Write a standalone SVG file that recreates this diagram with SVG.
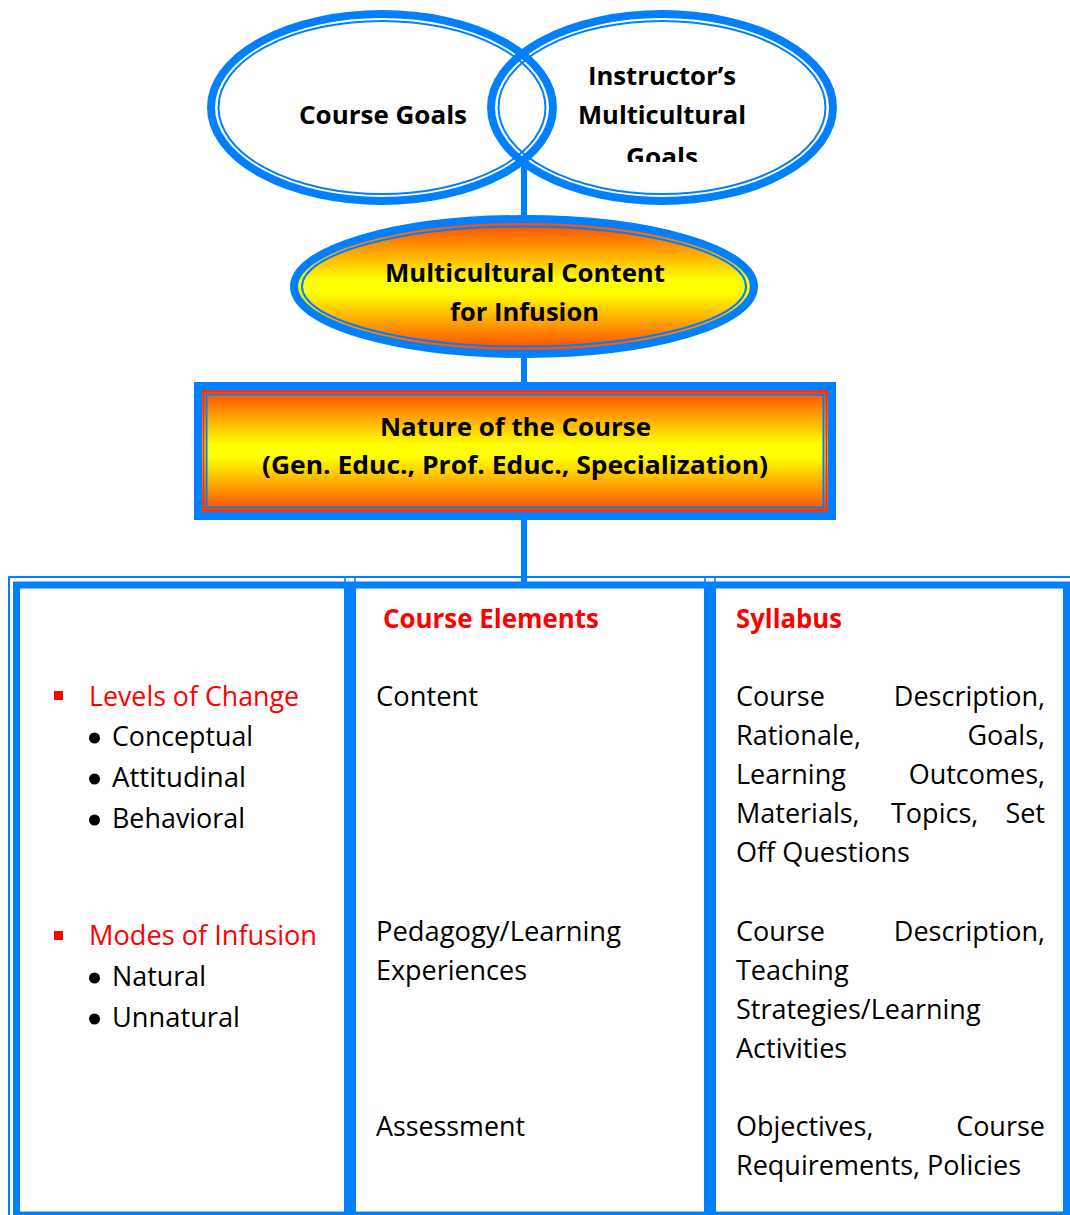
<svg xmlns="http://www.w3.org/2000/svg" width="1070" height="1215" viewBox="0 0 1070 1215">
<style>
.b{stroke:#0080FF;fill:none}
.t{font-family:"Open Sans","Liberation Sans",sans-serif;font-size:27px;fill:#000}
.h{font-family:"Open Sans","Liberation Sans",sans-serif;font-size:25.5px;font-weight:bold;fill:#000}
.red{fill:#FF0000}
.hb{font-weight:bold}
</style>
<defs>
<linearGradient id="g" x1="0" y1="0" x2="0" y2="1">
<stop offset="0" stop-color="#FF3C00"/>
<stop offset="0.45" stop-color="#FFFF00"/>
<stop offset="0.55" stop-color="#FFFF00"/>
<stop offset="1" stop-color="#FF3C00"/>
</linearGradient>
<clipPath id="cg"><rect x="560" y="0" width="220" height="162"/></clipPath>
</defs>
<rect width="1070" height="1215" fill="#fff"/>

<g id="connectors" stroke="#0080FF" stroke-width="6" fill="none">
<line x1="524" y1="160" x2="524" y2="220"/>
<line x1="524" y1="356" x2="524" y2="386"/>
<line x1="524" y1="518" x2="524" y2="584"/>
</g>

<g id="course-goals">
<ellipse class="b" cx="382" cy="107.5" rx="171" ry="93.5" stroke-width="8"/>
<ellipse class="b" cx="382" cy="107.5" rx="163.5" ry="86.5" stroke-width="2"/>
<text class="h" x="383" y="124" text-anchor="middle" textLength="168" lengthAdjust="spacingAndGlyphs">Course Goals</text>
</g>

<g id="instructor-goals">
<ellipse class="b" cx="662" cy="107.5" rx="171" ry="93.5" stroke-width="8"/>
<ellipse class="b" cx="662" cy="107.5" rx="163.5" ry="86.5" stroke-width="2"/>
<text class="h" x="662" y="85" text-anchor="middle" textLength="148" lengthAdjust="spacingAndGlyphs">Instructor’s</text>
<text class="h" x="662" y="124" text-anchor="middle" textLength="168" lengthAdjust="spacingAndGlyphs">Multicultural</text>
<text class="h" x="662" y="166" text-anchor="middle" clip-path="url(#cg)" textLength="72" lengthAdjust="spacingAndGlyphs">Goals</text>
</g>

<g id="multicultural-content">
<ellipse cx="524" cy="286.5" rx="230" ry="67.5" fill="url(#g)" stroke="#0080FF" stroke-width="8"/>
<ellipse cx="524" cy="286.5" rx="222" ry="60" fill="none" stroke="#0080FF" stroke-width="2"/>
<text class="h" x="525" y="282" text-anchor="middle" textLength="280" lengthAdjust="spacingAndGlyphs">Multicultural Content</text>
<text class="h" x="524.5" y="321" text-anchor="middle" textLength="149" lengthAdjust="spacingAndGlyphs">for Infusion</text>
</g>

<g id="nature-of-course">
<rect x="198" y="386" width="634" height="130" fill="url(#g)" stroke="#0080FF" stroke-width="8"/>
<rect x="203.5" y="391.5" width="623" height="119" fill="none" stroke="#FF2A00" stroke-width="2"/>
<rect x="206.5" y="394.5" width="617" height="113" fill="none" stroke="#0080FF" stroke-width="2"/>
<text class="h" x="515.5" y="436" text-anchor="middle" textLength="271" lengthAdjust="spacingAndGlyphs">Nature of the Course</text>
<text class="h" x="515" y="474" text-anchor="middle" textLength="506" lengthAdjust="spacingAndGlyphs">(Gen. Educ., Prof. Educ., Specialization)</text>
</g>

<g id="table-frame">
<rect x="9" y="577" width="1080" height="660" fill="none" stroke="#0080FF" stroke-width="2"/>
<rect x="16.5" y="585" width="1050" height="630" fill="none" stroke="#0080FF" stroke-width="7"/>
<rect x="344" y="585" width="12" height="630" fill="#0080FF"/>
<rect x="704" y="585" width="12" height="630" fill="#0080FF"/>
<rect x="345" y="577" width="10" height="6" fill="none" stroke="#0080FF" stroke-width="1.5"/>
<rect x="705" y="577" width="10" height="6" fill="none" stroke="#0080FF" stroke-width="1.5"/>
</g>

<g id="levels-column">
<rect x="54" y="691" width="9" height="9" fill="#FF0000"/>
<text class="t red" x="89" y="706" textLength="210" lengthAdjust="spacingAndGlyphs">Levels of Change</text>
<circle cx="94.5" cy="738" r="5.5"/>
<text class="t" x="112" y="746" textLength="141" lengthAdjust="spacingAndGlyphs">Conceptual</text>
<circle cx="94.5" cy="779" r="5.5"/>
<text class="t" x="112" y="787" textLength="134" lengthAdjust="spacingAndGlyphs">Attitudinal</text>
<circle cx="94.5" cy="820" r="5.5"/>
<text class="t" x="112" y="828" textLength="133" lengthAdjust="spacingAndGlyphs">Behavioral</text>
<rect x="54" y="931" width="9" height="9" fill="#FF0000"/>
<text class="t red" x="89" y="945" textLength="228" lengthAdjust="spacingAndGlyphs">Modes of Infusion</text>
<circle cx="94.5" cy="978" r="5.5"/>
<text class="t" x="112" y="986" textLength="94" lengthAdjust="spacingAndGlyphs">Natural</text>
<circle cx="94.5" cy="1019" r="5.5"/>
<text class="t" x="112" y="1027" textLength="128" lengthAdjust="spacingAndGlyphs">Unnatural</text>
</g>

<g id="course-elements-column">
<text class="t red hb" x="383" y="628" textLength="216" lengthAdjust="spacingAndGlyphs">Course Elements</text>
<text class="t" x="376" y="706" textLength="102" lengthAdjust="spacingAndGlyphs">Content</text>
<text class="t" x="376" y="941" textLength="245" lengthAdjust="spacingAndGlyphs">Pedagogy/Learning</text>
<text class="t" x="376" y="980" textLength="151" lengthAdjust="spacingAndGlyphs">Experiences</text>
<text class="t" x="376" y="1136" textLength="149" lengthAdjust="spacingAndGlyphs">Assessment</text>
</g>

<g id="syllabus-column">
<text class="t red hb" x="736" y="628" textLength="106" lengthAdjust="spacingAndGlyphs">Syllabus</text>
<text class="t" x="736" y="706">Course</text>
<text class="t" x="1045" y="706" text-anchor="end">Description,</text>
<text class="t" x="736" y="745">Rationale,</text>
<text class="t" x="1045" y="745" text-anchor="end">Goals,</text>
<text class="t" x="736" y="784">Learning</text>
<text class="t" x="1045" y="784" text-anchor="end">Outcomes,</text>
<text class="t" x="736" y="823">Materials,</text>
<text class="t" x="891" y="823">Topics,</text>
<text class="t" x="1045" y="823" text-anchor="end">Set</text>
<text class="t" x="736" y="862">Off Questions</text>
<text class="t" x="736" y="941">Course</text>
<text class="t" x="1045" y="941" text-anchor="end">Description,</text>
<text class="t" x="736" y="980">Teaching</text>
<text class="t" x="736" y="1019">Strategies/Learning</text>
<text class="t" x="736" y="1058">Activities</text>
<text class="t" x="736" y="1136">Objectives,</text>
<text class="t" x="1045" y="1136" text-anchor="end">Course</text>
<text class="t" x="736" y="1175">Requirements, Policies</text>
</g>
</svg>
